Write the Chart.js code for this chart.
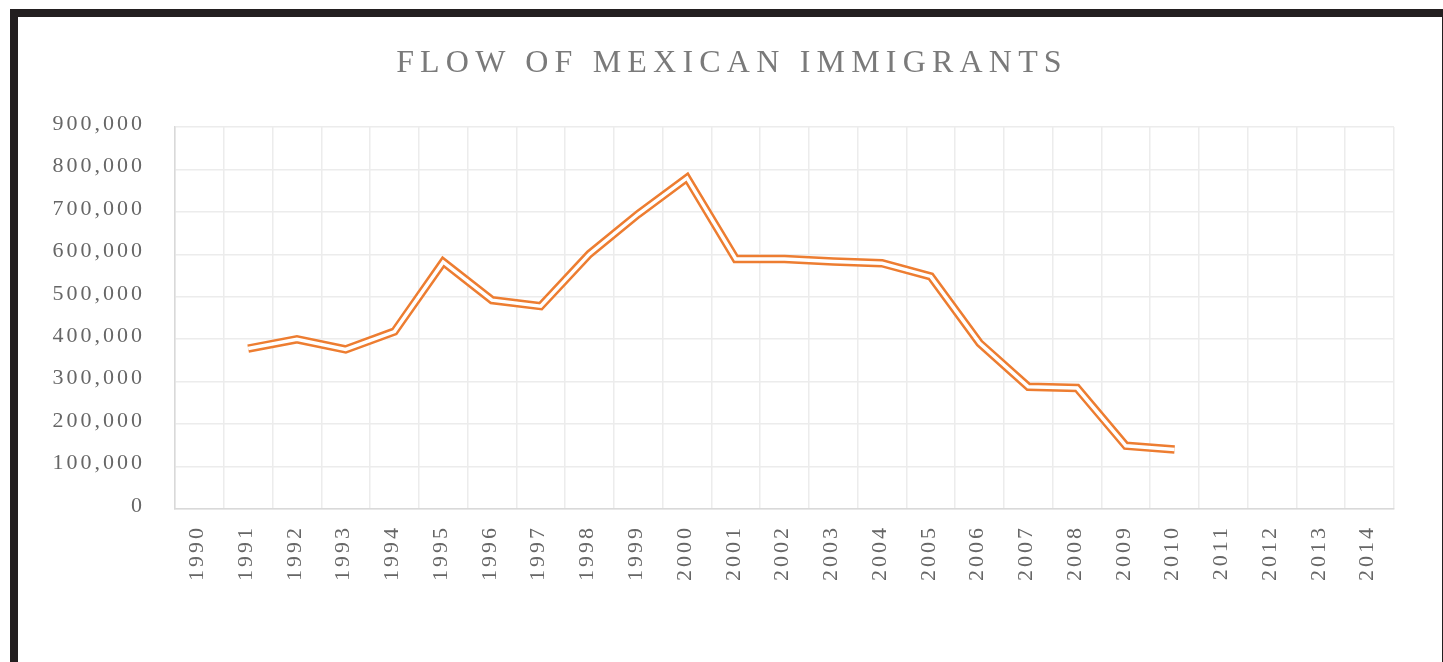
<!DOCTYPE html>
<html>
<head>
<meta charset="utf-8">
<script src="https://cdn.jsdelivr.net/npm/chart.js@4"></script>
<style>
  body { margin: 0; background: #fff; }
  #moldura {
    position: absolute; left: 10px; top: 9px; width: 1424px; height: 700px;
    border-left: 8px solid #231f20; border-top: 8px solid #231f20; border-right: 1px solid #231f20;
    pointer-events: none;
  }
  #titulo {
    position: absolute; left: 16px; width: 1432px; top: 45px;
    text-align: center; font-family: "Liberation Serif", serif; font-size: 32px; line-height: 32px;
    letter-spacing: 6.2px; color: #7a7a7a;
  }
  #grafico { position: absolute; left: 0; top: 0; }
</style>
</head>
<body>
<canvas id="grafico" width="1443" height="662"></canvas>
<div id="moldura"></div>
<div id="titulo">FLOW OF MEXICAN IMMIGRANTS</div>
<script>
const anos = ['1990','1991','1992','1993','1994','1995','1996','1997','1998','1999','2000','2001','2002',
              '2003','2004','2005','2006','2007','2008','2009','2010','2011','2012','2013','2014'];
const imigrantes = [null, 378000, 400000, 376000, 418000, 582000, 492000, 478000, 601000, 695000, 780000,
                    589000, 589000, 583000, 579000, 548000, 391000, 288000, 285000, 149000, 140000,
                    null, null, null, null];
const ticksY = [0, 100000, 200000, 300000, 400000, 500000, 600000, 700000, 800000, 900000];

const laranja = '#ed7d31';

// espacamento entre letras do canvas (perde quando o canvas redimensiona)
const espacamento = {
    id: 'espacamento',
    beforeLayout(chart) { chart.ctx.letterSpacing = '3px'; },
    beforeDraw(chart) { chart.ctx.letterSpacing = '3px'; }
};

const fonte = { family: '"Liberation Serif", serif', size: 22 };

new Chart(document.getElementById('grafico'), {
    type: 'line',
    data: {
        labels: anos,
        datasets: [
            {
                label: 'miolo',
                data: imigrantes,
                borderColor: '#ffffff',
                borderWidth: 3.5,
                borderJoinStyle: 'miter',
                pointRadius: 0,
                tension: 0,
                order: 1
            },
            {
                label: 'Flow of Mexican immigrants',
                data: imigrantes,
                borderColor: laranja,
                borderWidth: 8.5,
                borderJoinStyle: 'miter',
                pointRadius: 0,
                tension: 0,
                order: 2
            }
        ]
    },
    options: {
        responsive: false,
        animation: false,
        layout: { padding: { top: 127, right: 49, left: 0, bottom: 0 } },
        plugins: {
            legend: { display: false },
            tooltip: { enabled: false },
            title: { display: false }
        },
        scales: {
            x: {
                offset: true,
                grid: { offset: true, color: '#ececec', lineWidth: 1.5, drawTicks: false },
                border: { color: '#d9d9d9', width: 1.5 },
                ticks: {
                    font: fonte, color: '#666', padding: 16,
                    minRotation: 90, maxRotation: 90, autoSkip: false, labelOffset: -2
                },
                afterFit(scale) { scale.height = 153; }
            },
            y: {
                min: 0,
                max: 900000,
                afterBuildTicks(scale) { scale.ticks = ticksY.map(v => ({ value: v })); },
                grid: { color: '#ececec', lineWidth: 1.5, drawTicks: false },
                border: { color: '#d9d9d9', width: 1.5 },
                ticks: {
                    font: fonte, color: '#666', padding: 30, labelOffset: -3,
                    callback: v => v.toLocaleString('en-US')
                },
                afterFit(scale) { scale.width = 175; }
            }
        }
    },
    plugins: [espacamento]
});
</script>
</body>
</html>
